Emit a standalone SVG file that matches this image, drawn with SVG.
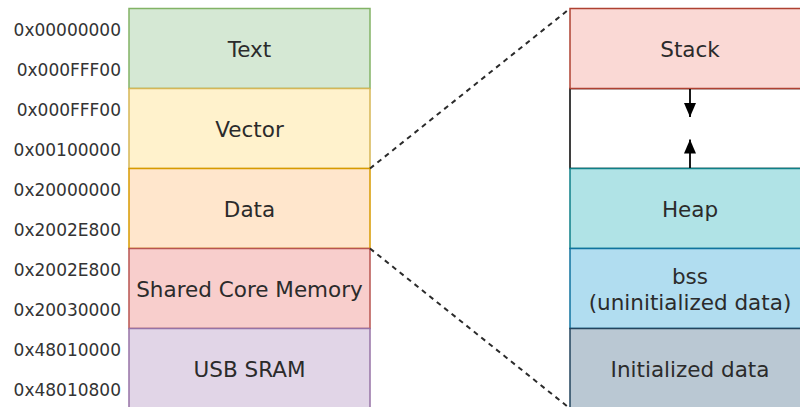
<svg xmlns="http://www.w3.org/2000/svg" width="800" height="407" viewBox="0 0 800 407">
  <style>
    .box { stroke-width: 1.5; }
    .lbl { font-family: "DejaVu Sans", sans-serif; font-size: 21.5px; fill: #2b2b2b; text-anchor: middle; }
    .addr { font-family: "DejaVu Sans", sans-serif; font-size: 17px; fill: #333333; text-anchor: end; }
    .zoom { fill: none; stroke: #2b2b2b; stroke-width: 2; stroke-dasharray: 5 4.5; }
    .grow { fill: none; stroke: #000000; stroke-width: 1.8; }
  </style>
  <defs>
    <marker id="head" viewBox="0 0 14 12" refX="14" refY="6" markerWidth="14" markerHeight="12" markerUnits="userSpaceOnUse" orient="auto">
      <path d="M0,0 L14,6 L0,12 Z" fill="#000000"/>
    </marker>
  </defs>
  <rect width="800" height="407" fill="#ffffff"/>

  <!-- address labels -->
  <g id="addresses">
    <text class="addr" x="121" y="36">0x00000000</text>
    <text class="addr" x="121" y="76">0x000FFF00</text>
    <text class="addr" x="121" y="116">0x000FFF00</text>
    <text class="addr" x="121" y="156">0x00100000</text>
    <text class="addr" x="121" y="196">0x20000000</text>
    <text class="addr" x="121" y="236">0x2002E800</text>
    <text class="addr" x="121" y="276">0x2002E800</text>
    <text class="addr" x="121" y="316">0x20030000</text>
    <text class="addr" x="121" y="356">0x48010000</text>
    <text class="addr" x="121" y="396">0x48010800</text>
  </g>

  <!-- memory map -->
  <g id="text-seg">
    <rect class="box" x="129" y="8.5" width="241" height="80" fill="#d5e8d4" stroke="#82b366"/>
    <text class="lbl" x="249.5" y="57">Text</text>
  </g>
  <g id="vector-seg">
    <rect class="box" x="129" y="88.5" width="241" height="80" fill="#fff2cc" stroke="#d6b656"/>
    <text class="lbl" x="249.5" y="137">Vector</text>
  </g>
  <g id="data-seg">
    <rect class="box" x="129" y="168.5" width="241" height="80" fill="#ffe6cc" stroke="#d79b00"/>
    <text class="lbl" x="249.5" y="217">Data</text>
  </g>
  <g id="shared-seg">
    <rect class="box" x="129" y="248.5" width="241" height="80" fill="#f8cecc" stroke="#b85450"/>
    <text class="lbl" x="249.5" y="297">Shared Core Memory</text>
  </g>
  <g id="usb-seg">
    <rect class="box" x="129" y="328.5" width="241" height="80" fill="#e1d5e7" stroke="#9673a6"/>
    <text class="lbl" x="249.5" y="377">USB SRAM</text>
  </g>

  <!-- data segment detail -->
  <g id="free-gap">
    <rect class="box" x="570" y="88.5" width="240" height="80" fill="#ffffff" stroke="#000000"/>
  </g>
  <g id="stack">
    <rect class="box" x="570" y="8.5" width="240" height="80" fill="#fad9d5" stroke="#ae4132"/>
    <text class="lbl" x="690" y="57">Stack</text>
  </g>
  <g id="heap">
    <rect class="box" x="570" y="168.5" width="240" height="80" fill="#b0e3e6" stroke="#0e8088"/>
    <text class="lbl" x="690" y="217">Heap</text>
  </g>
  <g id="bss">
    <rect class="box" x="570" y="248.5" width="240" height="80" fill="#b1ddf0" stroke="#10739e"/>
    <text class="lbl" x="690" y="284">bss</text>
    <text class="lbl" x="690" y="310">(uninitialized data)</text>
  </g>
  <g id="init-data">
    <rect class="box" x="570" y="328.5" width="240" height="80" fill="#bac8d3" stroke="#23445d"/>
    <text class="lbl" x="690" y="377">Initialized data</text>
  </g>

  <!-- connectors -->
  <g id="connectors">
    <line class="zoom" x1="370" y1="168.5" x2="570" y2="8.5"/>
    <line class="zoom" x1="370" y1="248.5" x2="570" y2="408.5"/>
    <line class="grow" x1="690" y1="89" x2="690" y2="117" marker-end="url(#head)"/>
    <line class="grow" x1="690" y1="168" x2="690" y2="139.5" marker-end="url(#head)"/>
  </g>
</svg>
